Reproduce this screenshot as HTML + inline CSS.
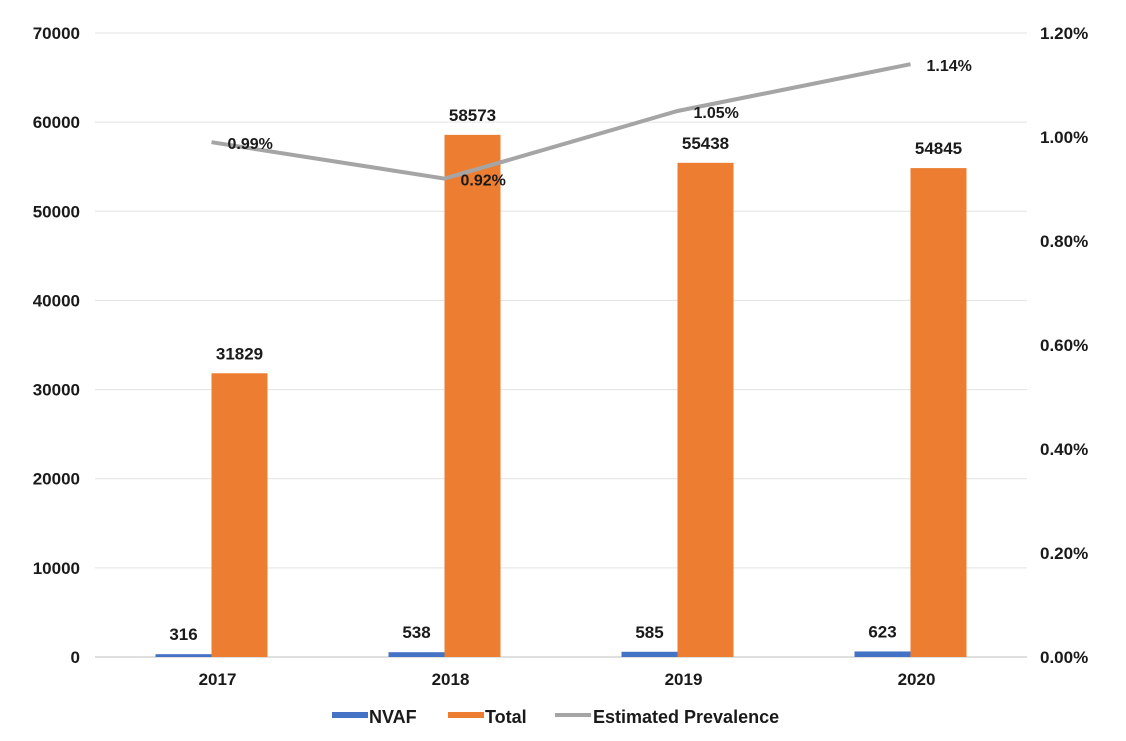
<!DOCTYPE html>
<html><head><meta charset="utf-8"><style>
html,body{margin:0;padding:0;background:#fff;}
svg text{font-family:"Liberation Sans",Arial,sans-serif;fill:#1a1a1a;font-weight:bold;}
</style></head><body>
<svg id="chart" width="1126" height="736" xmlns="http://www.w3.org/2000/svg">
<g id="grid"></g><g id="bars"></g><g id="line"></g><g id="labels"></g>
<g id="legend">
  <rect x="332" y="712" width="36" height="6" fill="#4472C4"/>
  <text x="369" y="723" font-size="18">NVAF</text>
  <rect x="448" y="712" width="36" height="6" fill="#ED7D31"/>
  <text x="485" y="723" font-size="18">Total</text>
  <line x1="555" y1="715" x2="591" y2="715" stroke="#A5A5A5" stroke-width="4"/>
  <text x="593" y="723" font-size="18">Estimated Prevalence</text>
</g>
</svg>
<script>
const categories=["2017","2018","2019","2020"];
const nvaf=[316,538,585,623];
const total=[31829,58573,55438,54845];
const prevalence=[0.99,0.92,1.05,1.14];
const leftTicks=[0,10000,20000,30000,40000,50000,60000,70000];
const rightTicks=[0,0.2,0.4,0.6,0.8,1.0,1.2];

const NS="http://www.w3.org/2000/svg";
const X0=95,X1=1027,Y0=657,Y1=33;
const band=(X1-X0)/categories.length;
const xc=i=>X0+band*(i+0.5);
const yL=v=>Y0-(v/70000)*(Y0-Y1);
const yR=v=>Y0-(v/1.2)*(Y0-Y1);
function mk(tag,attrs,parent){const e=document.createElementNS(NS,tag);for(const k in attrs)e.setAttribute(k,attrs[k]);document.getElementById(parent).appendChild(e);return e;}

leftTicks.forEach(t=>{
  if(t>0){const g=mk("line",{x1:X0,x2:X1,y1:yL(t),y2:yL(t),stroke:"#E3E3E3","stroke-width":1},"grid");
  
  }
  const tx=mk("text",{x:80,y:yL(t)+6,"font-size":17,"text-anchor":"end"},"grid");tx.textContent=t;
  
  
});
rightTicks.forEach(t=>{
  const tx=mk("text",{x:1040,y:yR(t)+6,"font-size":17},"grid");tx.textContent=t.toFixed(2)+"%";
  
  
});
const ax=mk("line",{x1:X0,x2:X1,y1:Y0,y2:Y0,stroke:"#BFBFBF","stroke-width":1},"grid");



const bw=56;
categories.forEach((c,i)=>{
  const cx=xc(i);
  const b1=mk("rect",{x:cx-bw,y:yL(nvaf[i]),width:bw,height:Y0-yL(nvaf[i]),fill:"#4472C4"},"bars");
  
  
  const b2=mk("rect",{x:cx,y:yL(total[i]),width:bw,height:Y0-yL(total[i]),fill:"#ED7D31"},"bars");
  
  
  const l1=mk("text",{x:cx-bw/2,y:yL(nvaf[i])-14,"font-size":17,"text-anchor":"middle"},"labels");l1.textContent=nvaf[i];
  
  
  const l2=mk("text",{x:cx+bw/2,y:yL(total[i])-14,"font-size":17,"text-anchor":"middle"},"labels");l2.textContent=total[i];
  
  
  const xl=mk("text",{x:cx+6,y:685,"font-size":17,"text-anchor":"middle"},"labels");xl.textContent=c;
  
  
});
const pts=prevalence.map((v,i)=>xc(i)+","+yR(v)).join(" ");
const pl=mk("polyline",{points:pts,fill:"none",stroke:"#A5A5A5","stroke-width":4},"line");


prevalence.forEach((v,i)=>{
  const t=mk("text",{x:xc(i)+16,y:yR(v)+7,"font-size":16},"labels");t.textContent=v.toFixed(2)+"%";
  
  
});
</script>
</body></html>
